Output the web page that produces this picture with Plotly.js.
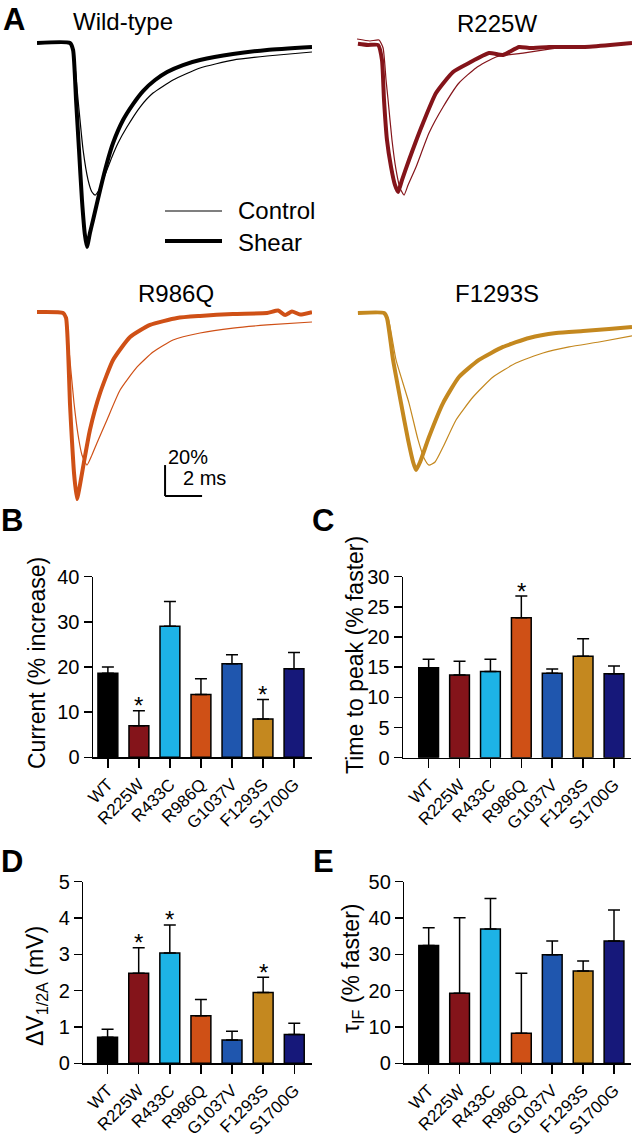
<!DOCTYPE html>
<html>
<head>
<meta charset="utf-8">
<script src="https://cdn.plot.ly/plotly-3.0.1.min.js"></script>
<style>
  html, body { margin: 0; padding: 0; background: #fff; }
  #fig { width: 633px; height: 1139px; }
</style>
</head>
<body>
<div id="fig"></div>
<script>
// ---- panel A: normalized current traces (time in ms, current in % of control peak) ----
const t_wt_ctrl = [0,1.78,1.95,2.22,2.49,2.76,2.97,3.14,3.35,3.57,4.05,4.38,4.86,5.57,6.27,7.35,8.81,10.59,12.43,14.86];
const i_wt_ctrl = [0,0,-4.5,-36.8,-69.0,-88.4,-96.1,-98.1,-94.8,-88.4,-73.5,-64.5,-54.2,-41.3,-32.3,-23.9,-16.1,-11.0,-8.4,-5.8];
const t_wt_shear = [0,1.78,1.95,2.11,2.27,2.43,2.59,2.70,2.86,3.03,3.41,3.78,4.11,4.65,5.19,5.73,6.38,7.03,7.89,8.81,10.59,12.43,14.86];
const i_wt_shear = [0,0,-4.5,-36.8,-69.0,-101.3,-123.9,-131.6,-122.6,-114.2,-94.8,-77.4,-64.5,-49.7,-39.4,-31.0,-23.9,-18.7,-14.2,-11.0,-7.1,-4.5,-2.6];

const t_r225w_ctrl = [0,0.70,1.19,1.41,1.57,1.68,1.89,2.11,2.32,2.54,2.76,3.19,3.89,4.65,5.51,6.43,7.51,8.97,10.38,11.30,13.14,14.86];
const i_r225w_ctrl = [2.6,1.3,1.9,-3.2,-23.9,-36.8,-62.6,-81.9,-93.5,-98.1,-91.6,-80.0,-58.1,-41.3,-25.8,-16.1,-9.0,-6.5,-3.9,-2.6,-1.9,-0.6];
const t_r225w_shear = [0.05,0.59,1.14,1.35,1.46,1.62,1.84,2.05,2.22,2.43,2.81,3.19,3.57,4.27,5.19,6.05,7.14,7.89,8.76,9.30,10.38,12.22,13.68,14.86];
const i_r225w_shear = [-0.5,-1.3,-1.3,-11.0,-36.8,-62.6,-80.0,-91.6,-96.1,-88.4,-75.5,-63.2,-51.6,-32.3,-18.7,-12.9,-6.5,-7.7,-2.6,-3.2,-2.6,-2.6,-1.3,0];

const t_r986q_ctrl = [0,1.41,1.57,1.73,2.00,2.22,2.43,2.70,2.97,3.24,3.78,4.49,5.41,6.27,7.35,8.81,10.59,12.43,14.86];
const i_r986q_ctrl = [0,0,-3.2,-23.9,-58.1,-78.7,-91.6,-98.1,-91.6,-83.9,-69.0,-49.7,-34.8,-25.2,-17.4,-12.9,-9.7,-7.7,-5.8];
const t_r986q_shear = [0,1.41,1.57,1.68,1.78,1.89,2.00,2.16,2.32,2.49,2.86,3.41,4.11,5.03,6.11,7.57,8.81,10.59,12.43,13.03,13.41,13.78,14.22,14.86];
const i_r986q_shear = [0.6,0,-3.2,-23.9,-58.1,-82.6,-103.2,-120.0,-111.0,-99.4,-75.5,-51.6,-30.3,-15.5,-7.7,-3.2,-1.9,-0.6,0,1.6,-1.3,1.0,-1.0,0.6];

const t_f1293s_ctrl = [0.05,1.46,1.68,2.11,2.81,3.30,3.62,3.89,4.22,4.65,5.35,6.27,7.35,8.59,10.05,11.46,13.08,14.86];
const i_f1293s_ctrl = [0,0,-3.2,-30.3,-58.1,-81.9,-93.5,-98.1,-96.1,-86.5,-69.0,-54.2,-41.3,-32.3,-25.8,-21.9,-18.7,-14.8];
const t_f1293s_shear = [0.05,1.46,1.62,1.95,2.38,2.76,3.03,3.19,3.41,3.89,4.65,5.51,6.59,7.89,9.30,10.76,12.22,13.62,14.86];
const i_f1293s_shear = [0,0,-3.2,-30.3,-58.1,-81.9,-96.1,-101.3,-96.1,-80.0,-58.1,-41.3,-30.3,-21.9,-16.1,-12.9,-11.6,-10.3,-9.0];

// ---- panels B-E: bar summaries ----
const genotypes = ['WT','R225W','R433C','R986Q','G1037V','F1293S','S1700G'];
const barColors = ['#000000','#84141a','#1db3e6','#cf5016','#1f56ae','#c4881f','#16187a'];

const currentMean = [18.6,7.0,29.0,13.9,20.7,8.5,19.6];
const currentSem  = [1.4,3.3,5.5,3.5,2.0,4.3,3.6];
const currentStar = [0,1,0,0,0,1,0];

const ttpMean = [14.9,13.7,14.3,23.2,14.0,16.8,13.9];
const ttpSem  = [1.4,2.3,2.0,3.6,0.7,2.9,1.3];
const ttpStar = [0,0,0,1,0,0,0];

const dvMean = [0.72,2.48,3.04,1.31,0.64,1.95,0.79];
const dvSem  = [0.22,0.70,0.77,0.45,0.24,0.42,0.31];
const dvStar = [0,1,1,0,0,1,0];

const tauMean = [32.4,19.3,37.0,8.3,29.9,25.4,33.7];
const tauSem  = [4.9,20.8,8.4,16.5,3.8,2.8,8.5];
const tauStar = [0,0,0,0,0,0,0];

const W = 633, H = 1139;
const FONT = 'Liberation Sans, Arial, sans-serif';
const px = p => p / W;
const py = p => 1 - p / H;

var data = [];
var annotations = [];

function addTraces(ax, ctrlT, ctrlI, shearT, shearI, color) {
    data.push({x: ctrlT, y: ctrlI, xaxis: 'x'+ax, yaxis: 'y'+ax, type: 'scatter', mode: 'lines',
        line: {color: color, width: 1.2, shape: 'spline', smoothing: 0.5}, hoverinfo: 'skip'});
    data.push({x: shearT, y: shearI, xaxis: 'x'+ax, yaxis: 'y'+ax, type: 'scatter', mode: 'lines',
        line: {color: color, width: 4, shape: 'spline', smoothing: 0.5}, hoverinfo: 'skip'});
}
addTraces('', t_wt_ctrl, i_wt_ctrl, t_wt_shear, i_wt_shear, '#000000');
addTraces('2', t_r225w_ctrl, i_r225w_ctrl, t_r225w_shear, i_r225w_shear, barColors[1]);
addTraces('3', t_r986q_ctrl, i_r986q_ctrl, t_r986q_shear, i_r986q_shear, barColors[3]);
addTraces('4', t_f1293s_ctrl, i_f1293s_ctrl, t_f1293s_shear, i_f1293s_shear, barColors[5]);

function addBars(ax, mean, sem, star) {
    data.push({
        type: 'bar', x: genotypes, y: mean, xaxis: 'x'+ax, yaxis: 'y'+ax, width: 0.64,
        marker: {color: barColors, line: {color: '#000', width: 1.5}},
        error_y: {type: 'data', symmetric: false, array: sem, arrayminus: sem.map(() => 0),
            color: '#000', thickness: 1.5, width: 6},
        hoverinfo: 'skip'
    });
    star.forEach((s, i) => {
        if (s) annotations.push({x: genotypes[i], y: mean[i] + sem[i], xref: 'x'+ax, yref: 'y'+ax,
            text: '*', showarrow: false, yanchor: 'middle', yshift: 5, font: {size: 24, color: '#000'}});
    });
}
addBars('5', currentMean, currentSem, currentStar);
addBars('6', ttpMean, ttpSem, ttpStar);
addBars('7', dvMean, dvSem, dvStar);
addBars('8', tauMean, tauSem, tauStar);

function traceX(x0, x1, a) { return {domain: [px(x0), px(x1)], range: [0, 14.86], anchor: a, visible: false, fixedrange: true}; }
function traceY(y0, y1, base, a) {
    return {domain: [py(y1), py(y0)], range: [-(y1 - base) / 1.55, (base - y0) / 1.55], anchor: a, visible: false, fixedrange: true};
}
function barX(x0, x1, r, a) {
    return {domain: [px(x0), px(x1)], range: r, anchor: a, type: 'category', showline: true, linecolor: '#000', linewidth: 1.5,
        ticks: 'outside', ticklen: 9, tickwidth: 1.5, tickcolor: '#000', tickangle: -45,
        tickfont: {size: 17, color: '#000'}, showgrid: false, zeroline: false, fixedrange: true};
}
function barY(y0, y1, top, dtick, a) {
    return {domain: [py(y1), py(y0)], range: [0, top], dtick: dtick, anchor: a, showline: true, linecolor: '#000', linewidth: 1.5,
        ticks: 'outside', ticklen: 8, tickwidth: 1.5, tickcolor: '#000',
        tickfont: {size: 20, color: '#000'}, showgrid: false, zeroline: false, fixedrange: true};
}

// panel titles, labels, legend text
function note(x, y, text, size, extra) {
    annotations.push(Object.assign({x: px(x), y: py(y), xref: 'paper', yref: 'paper', text: text, showarrow: false,
        xanchor: 'center', yanchor: 'middle', font: {size: size, color: '#000'}}, extra || {}));
}
note(14, 19, '<b>A</b>', 31);
note(12, 521, '<b>B</b>', 31);
note(323, 521, '<b>C</b>', 31);
note(12, 861, '<b>D</b>', 31);
note(323, 861, '<b>E</b>', 31);
note(123, 22, 'Wild-type', 24);
note(497, 23, 'R225W', 24);
note(176, 293, 'R986Q', 24);
note(497, 293, 'F1293S', 24);
note(236, 211, 'Control', 24, {xanchor: 'left'});
note(236, 242, 'Shear', 24, {xanchor: 'left'});
note(188, 457, '20%', 20);
note(204, 478, '2 ms', 20);
note(37, 663, 'Current (% increase)', 23, {textangle: -90});
note(355, 655, 'Time to peak (% faster)', 23, {textangle: -90});
note(37, 986, '\u0394V<sub>1/2A</sub> (mV)', 23, {textangle: -90});
note(352, 969, '\u03c4<sub>IF</sub> (% faster)', 23, {textangle: -90});

var shapes = [
    // legend lines
    {type: 'line', xref: 'paper', yref: 'paper', x0: px(165), x1: px(222), y0: py(211), y1: py(211), line: {color: '#000', width: 1.2}},
    {type: 'line', xref: 'paper', yref: 'paper', x0: px(165), x1: px(222), y0: py(241), y1: py(241), line: {color: '#000', width: 4}},
    // scale bar: 2 ms x 20 %
    {type: 'line', xref: 'x3', yref: 'y3', x0: 6.92, x1: 6.92, y0: -118.1, y1: -98.1, line: {color: '#000', width: 2}},
    {type: 'line', xref: 'x3', yref: 'y3', x0: 6.92, x1: 8.92, y0: -118.1, y1: -118.1, line: {color: '#000', width: 2}}
];

var layout = {
    width: W, height: H, margin: {l: 0, r: 0, t: 0, b: 0},
    paper_bgcolor: '#fff', plot_bgcolor: 'rgba(0,0,0,0)',
    font: {family: FONT, color: '#000'},
    showlegend: false, bargap: 0.3,
    xaxis: traceX(37, 312, 'y'), yaxis: traceY(35, 255, 43, 'x'),
    xaxis2: traceX(357, 632, 'y2'), yaxis2: traceY(35, 255, 43, 'x2'),
    xaxis3: traceX(37, 312, 'y3'), yaxis3: traceY(300, 510, 313, 'x3'),
    xaxis4: traceX(357, 632, 'y4'), yaxis4: traceY(300, 510, 313, 'x4'),
    xaxis5: barX(93, 312, [-0.48, 6.58], 'y5'), yaxis5: barY(576.7, 757.3, 40, 10, 'x5'),
    xaxis6: barX(403, 631, [-0.83, 6.55], 'y6'), yaxis6: barY(576.7, 757.7, 30, 5, 'x6'),
    xaxis7: barX(83.3, 312, [-0.78, 6.57], 'y7'), yaxis7: barY(881.7, 1063.3, 5, 1, 'x7'),
    xaxis8: barX(404.3, 631, [-0.79, 6.55], 'y8'), yaxis8: barY(881.7, 1063.3, 50, 10, 'x8'),
    annotations: annotations,
    shapes: shapes
};

Plotly.newPlot('fig', data, layout, {staticPlot: true});
</script>
</body>
</html>
